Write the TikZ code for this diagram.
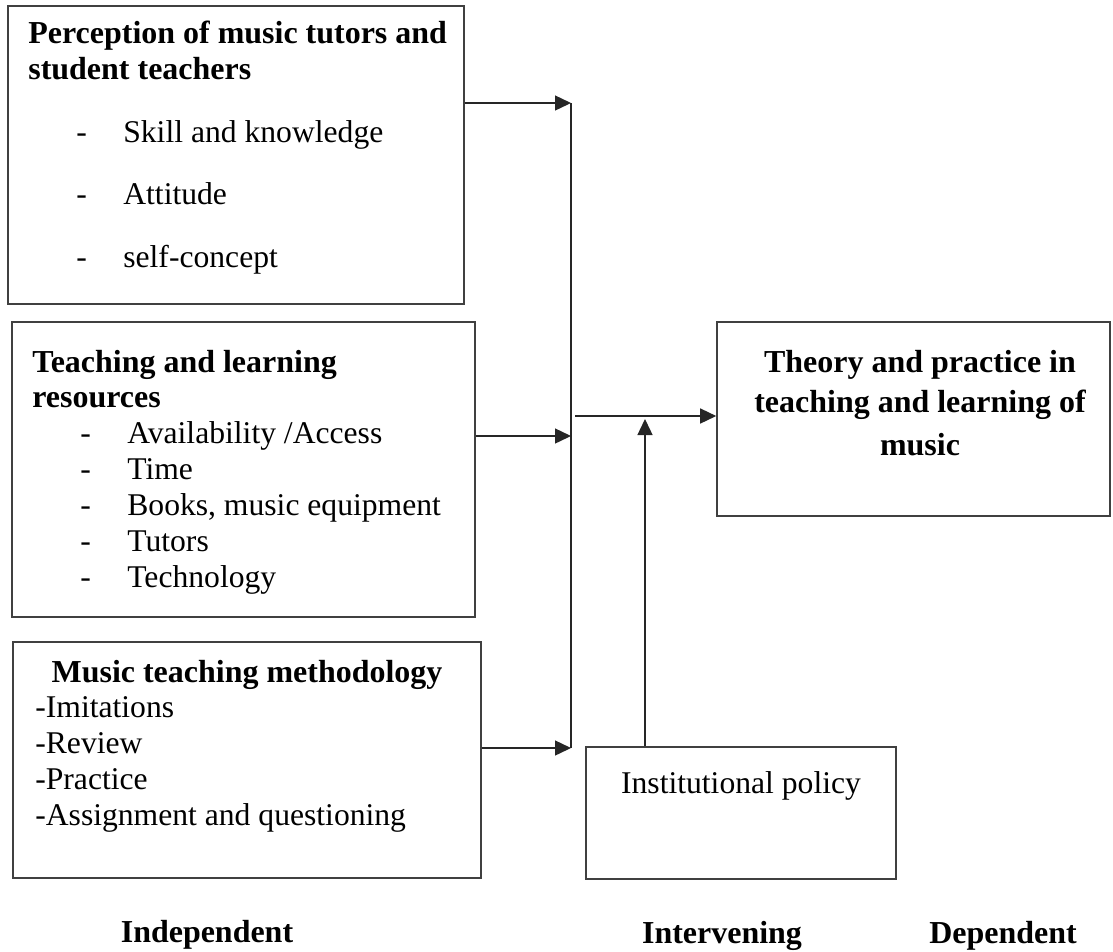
\documentclass[tikz,border=0pt]{standalone}
\usepackage{fontspec}
\setmainfont{Liberation Serif}
\usetikzlibrary{arrows.meta,positioning,fit}

\begin{document}
\begin{tikzpicture}[
    x=0.02cm, y=-0.02cm,
    box/.style={
        draw=black!75,
        line width=0.9pt,
        inner sep=0pt
    },
    head/.style={
        font=\fontsize{18.2}{21}\selectfont\bfseries,
        anchor=base west,
        inner sep=0pt
    },
    item/.style={
        font=\fontsize{18}{21}\selectfont,
        anchor=base west,
        inner sep=0pt
    },
    flow/.style={
        -{Triangle[length=0.32cm,width=0.3cm]},
        line width=0.8pt,
        black!85
    }
]
\useasboundingbox (0,0) rectangle (1113,951);

% boxes
\node[box, fit={(8,6) (464,304)}] (perc) {};
\node[box, fit={(12,322) (475,617)}] (res) {};
\node[box, fit={(13,642) (481,878)}] (meth) {};
\node[box, fit={(717,322) (1110,516)}] (theory) {};
\node[box, fit={(586,747) (896,879)}] (policy) {};

% perception
\node[head] (percA) at (28,43) {Perception of music tutors and};
\node[head] (percB) at (28,79) {student teachers};
\foreach \t [count=\i] in {Skill and knowledge, Attitude, self-concept} {
    \node[item] (pd\i) at (76,{142+62.5*(\i-1)}) {-};
    \node[item] (pt\i) at (123,{142+62.5*(\i-1)}) {\t};
}

% resources
\node[head] (resA) at (32,372) {Teaching and learning};
\node[head] (resB) at (32,407) {resources};
\foreach \t [count=\i] in {Availability /Access, Time, {Books, music equipment}, Tutors, Technology} {
    \node[item] (rd\i) at (80,{443+36*(\i-1)}) {-};
    \node[item] (rt\i) at (127,{443+36*(\i-1)}) {\t};
}

% methodology
\node[head, anchor=base] (methA) at (247,682) {Music teaching methodology};
\foreach \t [count=\i] in {-Imitations, -Review, -Practice, -Assignment and questioning} {
    \node[item] (mt\i) at (35,{717+36*(\i-1)}) {\t};
}

% outcome and policy
\node[head, anchor=base] (thA) at (920,372) {Theory and practice in};
\node[head, anchor=base] (thB) at (920,412) {teaching and learning of};
\node[head, anchor=base] (thC) at (920,455) {music};
\node[item, anchor=base] (polA) at (741,793) {Institutional policy};

% column labels
\node[head, anchor=base] (indep) at (207,942) {Independent};
\node[head, anchor=base] (interv) at (722,943) {Intervening};
\node[head, anchor=base] (dep) at (1003,943) {Dependent};

% connectors
\coordinate (j1) at (571,103);
\coordinate (j2) at (571,436);
\coordinate (j3) at (571,748);
\coordinate (jout) at (575,416);
\coordinate (up) at (645,419);

\draw[line width=0.8pt, black!85] (j1) -- (j3);
\draw[flow] (perc.east |- j1) -- (j1);
\draw[flow] (res.east |- j2) -- (j2);
\draw[flow] (meth.east |- j3) -- (j3);
\draw[flow] (jout) -- (theory.west |- jout);
\draw[flow] (policy.north -| up) -- (up);

\end{tikzpicture}
\end{document}
